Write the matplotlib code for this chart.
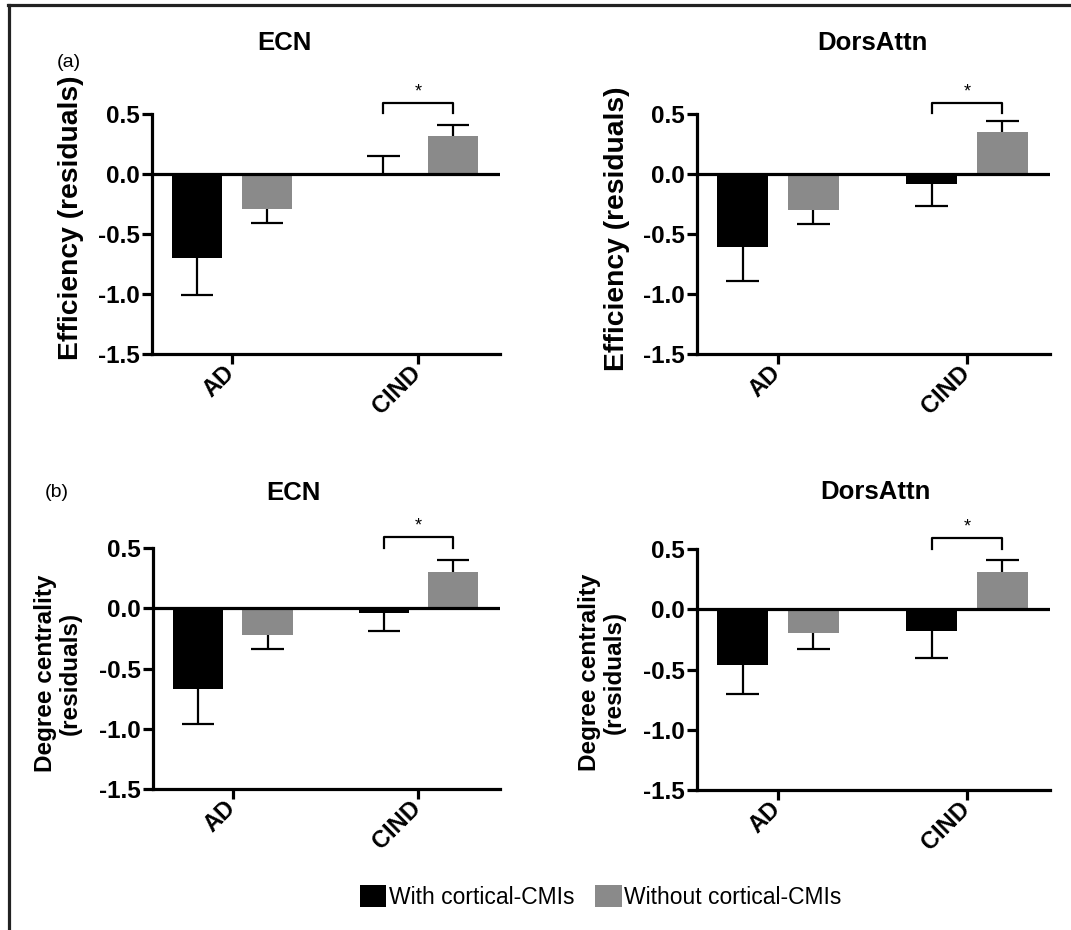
import matplotlib.pyplot as plt
from matplotlib.lines import Line2D
from matplotlib.patches import Patch
from matplotlib.transforms import ScaledTranslation
import numpy as np

plt.rcParams['font.family'] = ['Liberation Sans', 'DejaVu Sans']

groups = ['AD', 'CIND']
series = ['With cortical-CMIs', 'Without cortical-CMIs']
colors = ['black', '#8a8a8a']

titles = ['ECN', 'DorsAttn', 'ECN', 'DorsAttn']
ylabels = ['Efficiency (residuals)', 'Efficiency (residuals)',
           'Degree centrality\n(residuals)', 'Degree centrality\n(residuals)']

# mean residuals per panel: [with CMIs], [without CMIs] for AD, CIND
with_mean = [[-0.70, 0.01], [-0.61, -0.08], [-0.67, -0.04], [-0.46, -0.18]]
without_mean = [[-0.29, 0.32], [-0.30, 0.35], [-0.22, 0.30], [-0.20, 0.31]]
with_sem = [[0.31, 0.14], [0.28, 0.19], [0.29, 0.15], [0.24, 0.22]]
without_sem = [[0.12, 0.09], [0.12, 0.09], [0.12, 0.10], [0.13, 0.10]]

fig = plt.figure(figsize=(10.71, 9.3), dpi=100)

# axes rectangles [left, bottom, width, height]
rects = [[0.1419, 0.6194, 0.325, 0.258],
         [0.6508, 0.6194, 0.3296, 0.258],
         [0.1429, 0.1516, 0.324, 0.259],
         [0.6508, 0.1505, 0.3296, 0.259]]
title_pos = [(0.266, 0.954), (0.815, 0.954), (0.274, 0.470), (0.817, 0.471)]
ylabel_pos = [(0.066, 0.766), (0.576, 0.754), (0.054, 0.276), (0.562, 0.277)]
ylabel_size = [20.3, 20.3, 17.5, 17.5]

x = np.arange(len(groups))
w = 0.27
off = 0.187
shift = ScaledTranslation(-9 / 100, 0, fig.dpi_scale_trans)

for i in range(4):
    ax = fig.add_axes(rects[i])
    for k, (means, sems) in enumerate([(with_mean[i], with_sem[i]),
                                       (without_mean[i], without_sem[i])]):
        xs = x + (2 * k - 1) * off
        means = np.array(means)
        sems = np.array(sems)
        ax.bar(xs, means, width=w, color=colors[k], zorder=2)
        ends = means + np.sign(means) * sems
        ax.vlines(xs, means, ends, color='black', lw=1.6, zorder=3)
        ax.hlines(ends, xs - 0.087, xs + 0.087, color='black', lw=1.6, zorder=3)
    ax.axhline(0, color='black', lw=2.3, zorder=4)

    # significance bracket between CIND bars
    b0, b1 = x[1] - off, x[1] + off
    top = max(without_mean[i][1] + without_sem[i][1], 0.5) + 0.09
    ax.plot([b0, b0, b1, b1], [top - 0.085, top, top, top - 0.085],
            color='black', lw=1.6, clip_on=False)
    ax.text((b0 + b1) / 2, top + 0.02, '*', ha='center', va='bottom',
            fontsize=13, clip_on=False)

    ax.set_xlim(-0.43, 1.44)
    ax.set_ylim(-1.5, 0.5)
    ax.set_yticks([0.5, 0.0, -0.5, -1.0, -1.5])
    ax.set_yticklabels(['0.5', '0.0', '-0.5', '-1.0', '-1.5'],
                       fontsize=17.5, fontweight='bold')
    ax.set_xticks(x)
    ax.set_xticklabels(groups, fontsize=17, fontweight='bold', rotation=45,
                       ha='right', va='top', rotation_mode='anchor')
    ax.tick_params(axis='both', width=2.3, length=7, direction='out', pad=2)
    ax.tick_params(axis='x', pad=-2)
    for lab in ax.get_xticklabels():
        lab.set_transform(lab.get_transform() + shift)
    for s in ['top', 'right']:
        ax.spines[s].set_visible(False)
    for s in ['left', 'bottom']:
        ax.spines[s].set_linewidth(2.3)

    fig.text(*title_pos[i], titles[i], ha='center', va='center',
             fontsize=18.5, fontweight='bold')
    fig.text(*ylabel_pos[i], ylabels[i], ha='center', va='center',
             rotation=90, fontsize=ylabel_size[i], fontweight='bold',
             linespacing=1.1)

fig.text(0.064, 0.933, '(a)', ha='center', va='center', fontsize=14)
fig.text(0.053, 0.470, '(b)', ha='center', va='center', fontsize=14)

handles = [Patch(facecolor=c, edgecolor='none') for c in colors]
fig.legend(handles, series, loc='center', bbox_to_anchor=(0.561, 0.0355),
           ncol=2, frameon=False, fontsize=16.5, handlelength=1.15,
           handleheight=1.1, handletextpad=0.12, columnspacing=0.9)

# figure border (top and left)
fig.add_artist(Line2D([0.0075, 1.0], [0.9945, 0.9945], color='#222222', lw=2.3,
                      transform=fig.transFigure))
fig.add_artist(Line2D([0.0085, 0.0085], [0.0, 0.9945], color='#222222', lw=2.3,
                      transform=fig.transFigure))

fig.savefig('out.png', dpi=100)
